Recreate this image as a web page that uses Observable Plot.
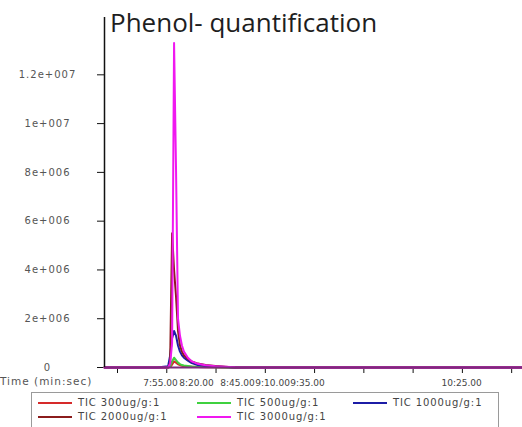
<!DOCTYPE html>
<html>
<head>
<meta charset="utf-8">
<script src="https://cdn.jsdelivr.net/npm/d3@7"></script>
<script src="https://cdn.jsdelivr.net/npm/@observablehq/plot@0.6"></script>
<style>
  body { margin: 0; background: #fff; }
  #wrap { position: relative; width: 522px; height: 427px; overflow: hidden; font-family: "DejaVu Sans", sans-serif; }
  #title { position: absolute; left: 110px; top: 9px; font: 26px/1 "Open Sans", sans-serif; color: #1e1e1e; white-space: nowrap; }
  #xname { position: absolute; left: 0; top: 375px; font-size: 10.5px; letter-spacing: 1px; color: #555; white-space: nowrap; }
  #legend { position: absolute; left: 31px; top: 392px; width: 466px; height: 60px; border: 1px solid #9a9a9a; }
  .item { position: absolute; font-size: 10px; line-height: 12px; letter-spacing: 0.9px; color: #444; white-space: nowrap; }
  .sw { display: inline-block; width: 34px; border-top: 2px solid; vertical-align: middle; margin-right: 6px; }
  .yt text { letter-spacing: 1px; }
</style>
</head>
<body>
<div id="wrap">
  <div id="chart"></div>
  <div id="title">Phenol- quantification</div>
  <div id="xname">Time (min:sec)</div>
  <div id="legend"></div>
</div>
<script>
// Retention time of each scan, in seconds
const scanTime = [443.4, 470, 475.7, 476.7, 477.7, 478.7, 479.7, 480.7, 481.7, 482.7,
                  483.7, 485.7, 487.7, 490.7, 494.7, 499.7, 504.7, 509.7, 520, 655.5];

// Total ion current per standard, one value per scan
const tic300  = [0, 0, 0, 0.02e6, 0.12e6, 0.25e6, 0.2e6, 0.13e6, 0.1e6, 0.07e6,
                 0.05e6, 0.04e6, 0.03e6, 0.02e6, 0.01e6, 0.01e6, 0, 0, 0, 0];
const tic500  = [0, 0, 0, 0.05e6, 0.25e6, 0.4e6, 0.3e6, 0.2e6, 0.14e6, 0.1e6,
                 0.08e6, 0.06e6, 0.04e6, 0.03e6, 0.02e6, 0.01e6, 0, 0, 0, 0];
const tic1000 = [0, 0, 0.05e6, 0.5e6, 1.2e6, 1.5e6, 1.3e6, 0.9e6, 0.65e6, 0.5e6,
                 0.4e6, 0.28e6, 0.18e6, 0.1e6, 0.06e6, 0.04e6, 0.02e6, 0, 0, 0];
const tic2000 = [0, 0, 0, 0.2e6, 5.5e6, 4.0e6, 2.9e6, 1.5e6, 0.9e6, 0.65e6,
                 0.5e6, 0.35e6, 0.25e6, 0.16e6, 0.1e6, 0.06e6, 0.03e6, 0, 0, 0];
const tic3000 = [0, 0, 0, 0.15e6, 1.0e6, 13.3e6, 8.1e6, 2.0e6, 1.3e6, 0.9e6,
                 0.65e6, 0.4e6, 0.25e6, 0.15e6, 0.09e6, 0.05e6, 0.03e6, 0.01e6, 0, 0];

const seriesNames  = ["TIC 300ug/g:1", "TIC 500ug/g:1", "TIC 1000ug/g:1", "TIC 2000ug/g:1", "TIC 3000ug/g:1"];
const seriesValues = [tic300, tic500, tic1000, tic2000, tic3000];
const seriesColors = ["#d62a2a", "#3fd13f", "#1c1ca6", "#8b1c1c", "#f018f0"];

// Axis ticks
const yTicks = [0, 2e6, 4e6, 6e6, 8e6, 10e6, 12e6];
const xTickSec = [450, 475, 500, 525, 550, 575, 600, 625, 650];
const timeLabels = ["7:55.00", "8:20.00", "8:45.00", "9:10.00", "9:35.00", "10:25.00"];
const timeLabelSec = [471.8, 490.1, 510.9, 528.7, 546.4, 624.6];

const xDomain = [443.4, 655.5];
const yDomain = [0, 14.35e6];

const labelAt = new Map(timeLabelSec.map((t, i) => [t, timeLabels[i]]));

// Exponent notation with a three-digit exponent, e.g. 1.2e+007
function sci(d) {
  if (d === 0) return "0";
  const e = Math.floor(Math.log10(d));
  const m = +(d / 10 ** e).toFixed(1);
  return `${m}e+${String(e).padStart(3, "0")}`;
}

const rows = seriesValues.flatMap((vals, s) =>
  vals.map((v, i) => ({series: seriesNames[s], t: scanTime[i], v}))
);

const chart = Plot.plot({
  width: 522,
  height: 392,
  marginLeft: 104,
  marginRight: 0,
  marginTop: 17,
  marginBottom: 25,
  style: {fontFamily: "DejaVu Sans, sans-serif", background: "transparent"},
  x: {domain: xDomain, axis: null},
  y: {domain: yDomain, axis: null},
  color: {domain: seriesNames, range: seriesColors},
  marks: [
    Plot.axisY({ticks: yTicks, tickSize: 7, tickPadding: 50, textAnchor: "middle", label: null,
                tickFormat: sci, fontSize: 10, fill: "#555", stroke: "#111", className: "yt"}),
    Plot.axisX({ticks: xTickSec, tickSize: 6, tickFormat: () => "", label: null, stroke: "#111"}),
    Plot.axisX({ticks: timeLabelSec, tickSize: 0, tickPadding: 12, label: null,
                tickFormat: d => labelAt.get(d), fontSize: 9, fill: "#444"}),
    ...seriesNames.map(name =>
      Plot.line(rows.filter(r => r.series === name),
                {x: "t", y: "v", stroke: "series", strokeWidth: 2, curve: "linear"})
    ),
    Plot.ruleY([0], {stroke: "#7d2a7d", strokeWidth: 2}),
    Plot.ruleX([xDomain[0]], {stroke: "#111", strokeWidth: 1.5})
  ]
});
document.getElementById("chart").append(chart);

// Legend: three entries on the first row, two on the second
const legend = document.getElementById("legend");
const cols = [6, 165, 321];
seriesNames.forEach((name, i) => {
  const el = document.createElement("div");
  el.className = "item";
  el.style.left = cols[i % 3] + "px";
  el.style.top = (i < 3 ? 4 : 18) + "px";
  el.innerHTML = `<span class="sw" style="border-color:${seriesColors[i]}"></span>${name}`;
  legend.append(el);
});
</script>
</body>
</html>
